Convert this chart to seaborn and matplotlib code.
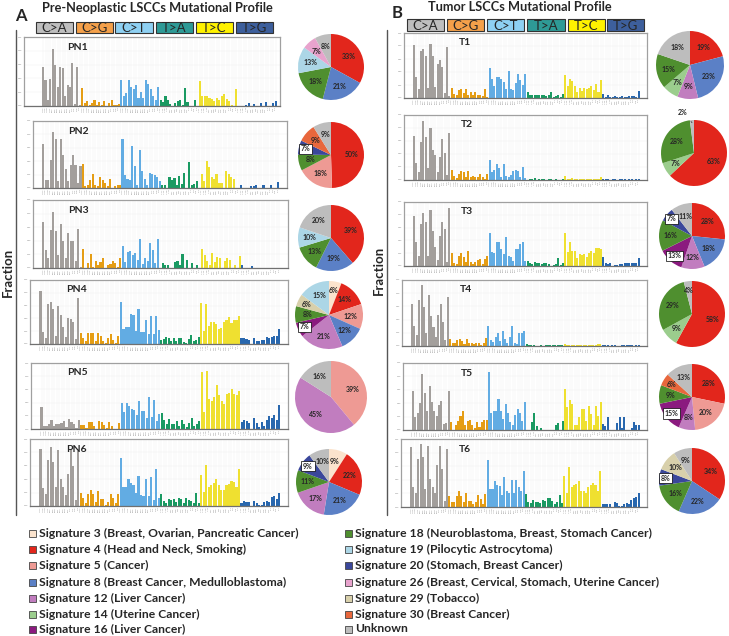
import matplotlib
matplotlib.use('Agg')
import matplotlib.pyplot as plt
from matplotlib.patches import Rectangle
import seaborn as sns
import numpy as np
import pandas as pd

sns.set_style('white')
plt.rcParams['font.family'] = ['Lato', 'DejaVu Sans']

W, H = 729, 636

# ---- mutation classes ----
mut_types = ['C>A', 'C>G', 'C>T', 'T>A', 'T>C', 'T>G']
bar_colors = ['#a39f9c', '#e59d14', '#62ace3', '#1a9a62', '#efe030', '#2867ae']
box_colors = ['#bebebe', '#f4a04a', '#8ed0f2', '#2e9a96', '#fff200', '#3d5f9c']
bases = 'ACGT'
contexts = [a + m[0] + b for m in mut_types for a in bases for b in bases]
ctx_ids = [a + '[' + m + ']' + b for m in mut_types for a in bases for b in bases]

# ---- 96-channel profiles (share of axis height, %) ----
pn1 = [57, 38, 9, 39, 82, 60, 27, 57, 55, 14, 30, 28, 62, 3, 57, 2,
       26, 4, 7, 1, 4, 8, 2, 6, 2, 7, 0, 4, 9, 2, 2, 3,
       38, 14, 19, 38, 27, 24, 31, 12, 20, 12, 38, 32, 24, 14, 8, 27,
       8, 6, 14, 9, 3, 0, 5, 7, 9, 1, 26, 6, 0, 0, 8, 0,
       36, 15, 14, 14, 12, 10, 7, 12, 9, 14, 18, 10, 7, 2, 0, 24,
       0, 0, 0, 2, 5, 0, 3, 0, 0, 4, 0, 6, 0, 0, 4, 7]
pn2 = [66, 12, 12, 42, 83, 73, 10, 73, 49, 28, 10, 34, 49, 35, 8, 33,
       36, 3, 4, 12, 21, 4, 3, 16, 12, 7, 3, 13, 0, 3, 4, 5,
       73, 20, 14, 12, 63, 33, 5, 56, 25, 13, 5, 23, 21, 20, 16, 11,
       5, 5, 0, 16, 12, 15, 5, 18, 6, 23, 0, 39, 5, 6, 10, 0,
       21, 10, 41, 31, 16, 13, 21, 8, 7, 0, 26, 21, 16, 13, 0, 0,
       5, 0, 0, 0, 3, 3, 5, 0, 0, 5, 0, 0, 4, 0, 0, 9]
pn3 = [68, 27, 14, 56, 83, 55, 19, 65, 39, 15, 52, 40, 40, 10, 58, 2,
       28, 0, 8, 20, 2, 11, 4, 9, 14, 0, 4, 6, 11, 8, 2, 14,
       32, 9, 24, 25, 19, 22, 12, 43, 6, 15, 10, 37, 26, 7, 43, 0,
       7, 4, 4, 0, 0, 9, 10, 4, 20, 0, 12, 0, 7, 0, 4, 0,
       28, 19, 11, 5, 22, 9, 16, 14, 0, 11, 14, 12, 0, 4, 0, 17,
       4, 0, 0, 0, 3, 0, 0, 0, 0, 0, 0, 0, 0, 0, 0, 0]
pn4 = [83, 19, 9, 62, 66, 55, 12, 59, 46, 27, 11, 40, 39, 34, 8, 72,
       17, 9, 4, 17, 17, 17, 5, 17, 13, 5, 2, 9, 16, 6, 2, 12,
       66, 24, 26, 26, 47, 46, 21, 55, 19, 18, 38, 16, 43, 16, 44, 22,
       7, 8, 11, 10, 4, 9, 5, 9, 9, 3, 2, 8, 14, 4, 6, 11,
       64, 21, 62, 28, 34, 34, 32, 24, 25, 34, 38, 42, 33, 37, 37, 44,
       9, 9, 8, 7, 0, 10, 5, 4, 7, 6, 11, 10, 11, 12, 12, 23]
pn5 = [33, 4, 4, 8, 14, 4, 7, 7, 9, 12, 3, 15, 11, 7, 2, 13,
       6, 6, 1, 10, 10, 5, 0, 12, 10, 6, 1, 11, 4, 0, 0, 9,
       40, 26, 40, 35, 31, 29, 21, 42, 27, 27, 17, 48, 18, 44, 12, 23,
       25, 13, 7, 15, 7, 7, 12, 4, 13, 7, 3, 9, 16, 5, 8, 12,
       86, 26, 88, 46, 43, 48, 67, 51, 42, 38, 53, 55, 60, 53, 52, 57,
       10, 13, 12, 9, 0, 17, 9, 3, 10, 4, 13, 20, 16, 21, 13, 36]
pn6 = [85, 27, 18, 68, 88, 66, 28, 84, 40, 28, 17, 48, 85, 59, 9, 82,
       20, 12, 4, 18, 24, 18, 6, 22, 10, 10, 1, 6, 18, 12, 4, 18,
       72, 28, 28, 40, 34, 32, 20, 45, 16, 15, 41, 15, 44, 9, 55, 12,
       18, 7, 4, 10, 9, 10, 6, 12, 10, 4, 12, 9, 7, 4, 20, 4,
       47, 21, 61, 29, 31, 34, 40, 32, 24, 24, 31, 33, 38, 36, 28, 55,
       5, 7, 6, 6, 0, 7, 4, 1, 1, 6, 8, 6, 13, 15, 11, 20]
t1 = [82, 32, 14, 73, 76, 64, 16, 83, 64, 17, 53, 58, 47, 8, 79, 3,
      15, 6, 4, 13, 14, 8, 14, 4, 10, 4, 10, 4, 5, 3, 14, 2,
      46, 30, 18, 32, 32, 30, 24, 14, 41, 14, 13, 23, 37, 28, 20, 37,
      9, 4, 4, 5, 4, 4, 4, 4, 3, 4, 10, 1, 3, 4, 1, 6,
      36, 18, 30, 26, 19, 10, 15, 11, 15, 14, 15, 19, 12, 22, 10, 28,
      6, 2, 4, 1, 2, 3, 2, 2, 3, 2, 2, 3, 3, 3, 2, 11]
t2 = [68, 26, 12, 58, 90, 66, 19, 80, 46, 38, 12, 35, 63, 42, 8, 73,
      16, 6, 3, 9, 14, 13, 4, 14, 4, 6, 4, 5, 9, 5, 2, 9,
      30, 12, 15, 25, 18, 5, 25, 6, 4, 8, 14, 15, 14, 4, 20, 3,
      0, 1, 2, 3, 0, 2, 2, 1, 0, 1, 1, 0, 2, 0, 0, 2,
      6, 2, 1, 3, 2, 1, 1, 1, 1, 1, 1, 2, 1, 1, 1, 4,
      1, 1, 1, 0, 1, 1, 0, 1, 1, 1, 0, 1, 1, 0, 1, 1]
t3 = [78, 37, 16, 65, 83, 69, 16, 87, 54, 29, 10, 47, 69, 58, 7, 90,
      21, 4, 3, 16, 20, 14, 6, 24, 6, 3, 7, 9, 11, 3, 11, 16,
      51, 22, 20, 37, 38, 27, 18, 45, 15, 14, 8, 26, 27, 34, 38, 8,
      8, 4, 3, 6, 4, 4, 3, 4, 4, 3, 0, 1, 3, 12, 2, 4,
      51, 22, 37, 24, 24, 12, 18, 17, 18, 14, 20, 24, 20, 28, 28, 27,
      14, 5, 3, 4, 0, 1, 2, 3, 3, 4, 4, 4, 5, 4, 4, 12]
t4 = [64, 31, 16, 70, 92, 59, 20, 78, 45, 29, 13, 47, 63, 37, 9, 74,
      10, 5, 4, 9, 11, 7, 3, 11, 4, 5, 3, 5, 4, 2, 4, 12,
      30, 9, 6, 14, 19, 8, 22, 10, 5, 13, 31, 5, 3, 20, 20, 22,
      3, 2, 2, 1, 0, 0, 1, 0, 2, 1, 1, 2, 1, 2, 2, 1,
      3, 2, 2, 1, 1, 2, 1, 2, 1, 1, 2, 1, 2, 1, 3, 3,
      1, 1, 1, 0, 1, 1, 0, 0, 1, 1, 1, 2, 1, 0, 1, 1]
t5 = [58, 19, 25, 41, 83, 55, 29, 66, 42, 29, 21, 37, 43, 9, 11, 58,
      12, 0, 8, 13, 21, 28, 8, 13, 15, 7, 3, 12, 5, 12, 15, 15,
      87, 26, 28, 29, 46, 29, 17, 39, 26, 12, 8, 22, 31, 26, 14, 42,
      0, 0, 12, 26, 6, 0, 3, 0, 0, 0, 0, 0, 8, 11, 0, 13,
      61, 34, 45, 39, 7, 8, 19, 31, 31, 13, 36, 24, 8, 36, 21, 42,
      9, 6, 19, 0, 0, 0, 11, 19, 3, 19, 0, 0, 3, 12, 8, 8]
t6 = [88, 29, 20, 71, 93, 74, 27, 89, 41, 29, 21, 62, 89, 56, 9, 85,
      16, 8, 7, 16, 23, 16, 7, 21, 9, 9, 4, 7, 18, 12, 4, 19,
      69, 26, 26, 38, 32, 31, 18, 44, 23, 21, 40, 21, 40, 30, 24, 53,
      19, 8, 6, 10, 8, 8, 6, 11, 9, 13, 13, 9, 4, 7, 18, 6,
      45, 21, 59, 30, 32, 34, 38, 23, 23, 21, 29, 32, 36, 32, 23, 53,
      4, 5, 5, 5, 0, 8, 6, 1, 1, 4, 6, 5, 11, 13, 14, 20]

# ---- signature contributions (pie slices, clockwise from top) ----
pie_pn1_sigs = ['4', '8', '18', '19', '26', 'U']
pie_pn1_vals = [33, 21, 18, 13, 7, 8]
pie_pn2_sigs = ['4', '5', '18', '20', '30', 'U']
pie_pn2_vals = [50, 18, 8, 7, 9, 9]
pie_pn3_sigs = ['4', '8', '18', '19', 'U']
pie_pn3_vals = [39, 19, 13, 10, 20]
pie_pn4_sigs = ['3', '4', '5', '8', '12', '16', '18', '29', '19']
pie_pn4_vals = [6, 14, 12, 12, 21, 7, 8, 6, 15]
pie_pn5_sigs = ['5', '12', 'U']
pie_pn5_vals = [39, 45, 16]
pie_pn6_sigs = ['3', '4', '8', '12', '18', '20', 'U']
pie_pn6_vals = [9, 22, 21, 17, 11, 9, 10]
pie_t1_sigs = ['4', '8', '12', '14', '18', 'U']
pie_t1_vals = [19, 23, 9, 7, 15, 18]
pie_t2_sigs = ['4', '14', '18', 'U']
pie_t2_vals = [63, 7, 28, 2]
pie_t3_sigs = ['4', '8', '12', '16', '18', '20', 'U']
pie_t3_vals = [28, 18, 12, 13, 16, 7, 11]
pie_t4_sigs = ['4', '14', '18', 'U']
pie_t4_vals = [58, 9, 29, 4]
pie_t5_sigs = ['4', '5', '12', '16', '18', '30', 'U']
pie_t5_vals = [28, 20, 8, 15, 9, 6, 13]
pie_t6_sigs = ['4', '8', '18', '20', '29', 'U']
pie_t6_vals = [34, 22, 16, 8, 10, 9]

sig_keys = ['3', '4', '5', '8', '12', '14', '16', '18', '19', '20', '26', '29', '30', 'U']
sig_names = ['Signature 3 (Breast, Ovarian, Pancreatic Cancer)',
             'Signature 4 (Head and Neck, Smoking)',
             'Signature 5 (Cancer)',
             'Signature 8 (Breast Cancer, Medulloblastoma)',
             'Signature 12 (Liver Cancer)',
             'Signature 14 (Uterine Cancer)',
             'Signature 16 (Liver Cancer)',
             'Signature 18 (Neuroblastoma, Breast, Stomach Cancer)',
             'Signature 19 (Pilocytic Astrocytoma)',
             'Signature 20 (Stomach, Breast Cancer)',
             'Signature 26 (Breast, Cervical, Stomach, Uterine Cancer)',
             'Signature 29 (Tobacco)',
             'Signature 30 (Breast Cancer)',
             'Unknown']
sig_colors = ['#fbe3cd', '#e2261c', '#ee9a94', '#5b80c6', '#c17dbf', '#9bcd8d', '#8b1a7f',
              '#4f8f2f', '#acd6e6', '#3a479b', '#e8a3cd', '#d8d0ab', '#e8673c', '#bdbdbd']
sig_col = dict(zip(sig_keys, sig_colors))

fig = plt.figure(figsize=(W / 100, H / 100), dpi=100)


def px_rect(l, t, r, b):
    return [l / W, 1 - b / H, (r - l) / W, (b - t) / H]


def ftext(x, y, s, **kw):
    fig.text(x / W, 1 - y / H, s, **kw)


def draw_profile(box, name, vals, name_x, xlim=(-4.2, 98.5)):
    ax = fig.add_axes(px_rect(*box))
    df = pd.DataFrame({'ctx': ctx_ids, 'type': np.repeat(mut_types, 16), 'frac': vals})
    sns.barplot(data=df, x='ctx', y='frac', hue='type', order=ctx_ids,
                palette=dict(zip(mut_types, bar_colors)), dodge=False, width=0.85,
                saturation=1, errorbar=None, legend=False, linewidth=0, ax=ax)
    ax.set_xlim(*xlim)
    ax.set_ylim(0, 100)
    ax.set_xticks(range(96))
    ax.set_xticklabels(contexts, rotation=90, fontsize=1.6, color='#888888')
    ax.set_yticks([0, 20, 40, 60, 80, 100])
    ax.set_yticklabels(['0.00', '0.05', '0.10', '0.15', '0.20', '0.25'], fontsize=1.6, color='#888888')
    ax.tick_params(length=0, pad=1)
    ax.set_xlabel('')
    ax.set_ylabel('')
    ax.grid(True, color='#f0f0f0', lw=0.3)
    ax.set_axisbelow(True)
    for sp in ax.spines.values():
        sp.set_color('#a0a0a0')
        sp.set_linewidth(0.9)
    ax.spines['bottom'].set_color('#707070')
    ax.text(name_x, 0.85, name, transform=ax.transAxes, ha='center', va='center',
            fontsize=7.5, fontweight='bold')


def draw_pie(cx, cy, r, sigs, vals, boxed=(), out_label=None):
    ax = fig.add_axes(px_rect(cx - r * 1.05, cy - r * 1.05, cx + r * 1.05, cy + r * 1.05))
    wedges, _ = ax.pie(vals, colors=[sig_col[s] for s in sigs], startangle=90,
                       counterclock=False, wedgeprops=dict(linewidth=0))
    ax.set_xlim(-1.05, 1.05)
    ax.set_ylim(-1.05, 1.05)
    ax.set_aspect('equal')
    for w, s, v in zip(wedges, sigs, vals):
        ang = np.deg2rad((w.theta1 + w.theta2) / 2)
        lab = f'{v}%'
        if s == out_label:
            ax.annotate(lab, xy=(0.92 * np.cos(ang), 0.92 * np.sin(ang)), xytext=(-0.35, 1.22),
                        ha='center', va='center', fontsize=5, fontweight='bold',
                        arrowprops=dict(arrowstyle='-', lw=0.4, color='black'),
                        annotation_clip=False)
        elif s in boxed:
            ax.text(0.8 * np.cos(ang), 0.8 * np.sin(ang), lab, ha='center', va='center',
                    fontsize=5, fontweight='bold', clip_on=False,
                    bbox=dict(boxstyle='square,pad=0.25', fc='white', ec='black', lw=0.5))
        else:
            d = 0.72 if v <= 6 else 0.64
            ax.text(d * np.cos(ang), d * np.sin(ang), lab, ha='center', va='center',
                    fontsize=5, fontweight='bold')


# ---- headers ----
ftext(21, 16, 'A', fontsize=12, fontweight='bold', ha='center', va='center')
ftext(157, 8, 'Pre-Neoplastic LSCCs Mutational Profile', fontsize=9.2, fontweight='bold',
      ha='center', va='center')
ftext(397, 13, 'B', fontsize=12, fontweight='bold', ha='center', va='center')
ftext(520, 7, 'Tumor LSCCs Mutational Profile', fontsize=9.2, fontweight='bold',
      ha='center', va='center')

left_boxes = [(36, 73), (76, 113), (115, 153), (156, 193), (196, 233), (236, 273)]
right_boxes = [(407, 444), (447, 484), (487, 524), (527, 565), (568, 605), (607, 644)]
for boxes, (top, bot) in [(left_boxes, (22, 33)), (right_boxes, (19, 31))]:
    for (x0, x1), m, c in zip(boxes, mut_types, box_colors):
        fig.patches.append(Rectangle((x0 / W, 1 - bot / H), (x1 - x0) / W, (bot - top) / H,
                                     transform=fig.transFigure, fc=c, ec='#333333', lw=0.8))
        ftext((x0 + x1) / 2, (top + bot) / 2 + 0.5, m, fontsize=9.5, ha='center', va='center')

# ---- side rules and Fraction labels ----
for x in (16, 387):
    fig.add_artist(plt.Line2D([x / W, x / W], [1 - 30 / H, 1 - 515 / H], color='#555555', lw=1))
ftext(8, 272, 'Fraction', rotation=90, fontsize=9.5, fontweight='bold', ha='center', va='center')
ftext(379, 270, 'Fraction', rotation=90, fontsize=9.5, fontweight='bold', ha='center', va='center')

# ---- profiles ----
draw_profile((24, 37, 280, 106), 'PN1', pn1, 0.21, xlim=(-7.8, 96.8))
draw_profile((33, 121, 287, 188), 'PN2', pn2, 0.18)
draw_profile((33, 200, 288, 268), 'PN3', pn3, 0.18)
draw_profile((30, 280, 288, 344), 'PN4', pn4, 0.18)
draw_profile((31, 363, 288, 429), 'PN5', pn5, 0.18)
draw_profile((30, 439, 288, 506), 'PN6', pn6, 0.18)
draw_profile((404, 33, 647, 98), 'T1', t1, 0.25)
draw_profile((404, 115, 647, 180), 'T2', t2, 0.26)
draw_profile((404, 202, 647, 266), 'T3', t3, 0.26)
draw_profile((402, 280, 647, 346), 'T4', t4, 0.26)
draw_profile((403, 363, 647, 430), 'T5', t5, 0.26)
draw_profile((401, 439, 647, 507), 'T6', t6, 0.26)

# ---- pies ----
draw_pie(331, 67, 33, pie_pn1_sigs, pie_pn1_vals)
draw_pie(331, 155, 33, pie_pn2_sigs, pie_pn2_vals, boxed=('20',))
draw_pie(331, 238, 33, pie_pn3_sigs, pie_pn3_vals)
draw_pie(329, 315, 34, pie_pn4_sigs, pie_pn4_vals, boxed=('16',))
draw_pie(331, 397, 36, pie_pn5_sigs, pie_pn5_vals)
draw_pie(329, 482, 33, pie_pn6_sigs, pie_pn6_vals, boxed=('20',))
draw_pie(690, 65, 34, pie_t1_sigs, pie_t1_vals)
draw_pie(694, 153, 33, pie_t2_sigs, pie_t2_vals, out_label='U')
draw_pie(692, 236, 33, pie_t3_sigs, pie_t3_vals, boxed=('16', '20'))
draw_pie(692, 314, 33, pie_t4_sigs, pie_t4_vals)
draw_pie(692, 397, 33, pie_t5_sigs, pie_t5_vals, boxed=('16',))
draw_pie(692, 481, 33, pie_t6_sigs, pie_t6_vals, boxed=('20',))

# ---- legend ----
rows_y = [533, 549, 565, 582, 598, 614, 629]
for i, (k, name) in enumerate(zip(sig_keys, sig_names)):
    col, row = divmod(i, 7)
    sx = 29 if col == 0 else 345
    y = rows_y[row]
    fig.patches.append(Rectangle((sx / W, 1 - (y + 3.5) / H), 7 / W, 7 / H,
                                 transform=fig.transFigure, fc=sig_col[k], ec='#444444', lw=0.6))
    ftext(sx + 10, y, name, fontsize=8.7, fontweight='bold', ha='left', va='center')

fig.savefig('out.png', dpi=100)
